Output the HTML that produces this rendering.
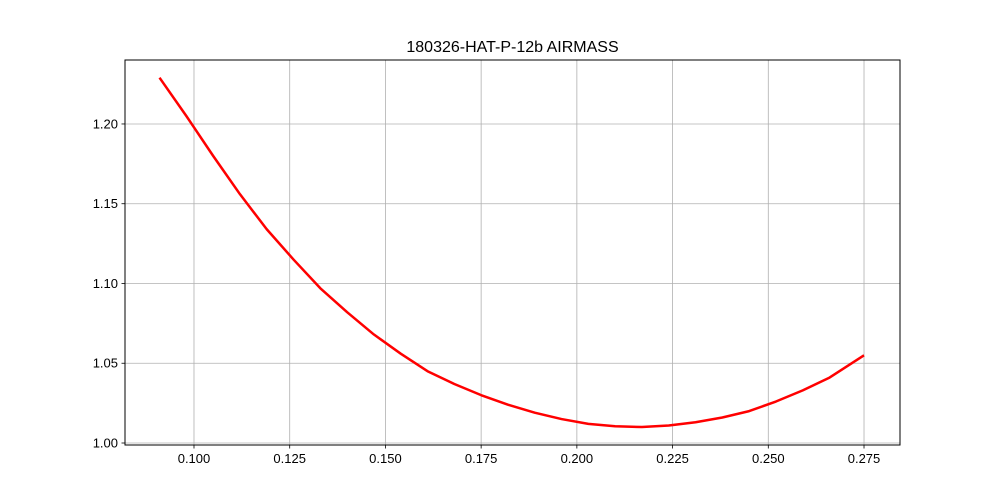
<!DOCTYPE html>
<html><head><meta charset="utf-8"><style>
html,body{margin:0;padding:0;background:#fff;}
svg{display:block;font-family:"Liberation Sans","DejaVu Sans",sans-serif;}
</style></head><body>
<svg id="chart" width="1000" height="500" viewBox="0 0 1000 500">
<rect x="0" y="0" width="1000" height="500" fill="#fff"/>
<text x="512.5" y="52" text-anchor="middle" font-size="16" fill="#000">180326-HAT-P-12b AIRMASS</text>
<g id="grid"></g>
<g id="series"></g>
<rect x="125" y="60" width="775" height="385" fill="none" stroke="#000" stroke-width="1"/>
<g id="axes"></g>
</svg>
<script>
const xValues = [0.091,0.098,0.105,0.112,0.119,0.126,0.133,0.140,0.147,0.154,0.161,0.168,0.175,0.182,0.189,0.196,0.203,0.210,0.217,0.224,0.231,0.238,0.245,0.252,0.259,0.266,0.275];
const airmass = [1.229,1.205,1.180,1.156,1.134,1.115,1.097,1.082,1.068,1.056,1.045,1.037,1.030,1.024,1.019,1.015,1.012,1.0105,1.010,1.011,1.013,1.016,1.020,1.026,1.033,1.041,1.055];
const xTicks = [0.100,0.125,0.150,0.175,0.200,0.225,0.250,0.275];
const xTickLabels = ["0.100","0.125","0.150","0.175","0.200","0.225","0.250","0.275"];
const yTicks = [1.00,1.05,1.10,1.15,1.20];
const yTickLabels = ["1.00","1.05","1.10","1.15","1.20"];

const L=125,R=900,T=60,B=445;
const xMin=0.08198,xMax=0.2844,yMin=0.99875,yMax=1.2401;
const sx=v=>L+(v-xMin)/(xMax-xMin)*(R-L);
const sy=v=>B-(v-yMin)/(yMax-yMin)*(B-T);
const NS="http://www.w3.org/2000/svg";
const grid=document.getElementById('grid'),axes=document.getElementById('axes'),series=document.getElementById('series');
function mk(tag,attrs,parent){const e=document.createElementNS(NS,tag);for(const k in attrs)e.setAttribute(k,attrs[k]);parent.appendChild(e);return e;}
xTicks.forEach((v,i)=>{
  const x=sx(v);
  const g=mk('line',{x1:x,x2:x,y1:T,y2:B,stroke:'#b0b0b0','stroke-width':0.8},grid);
  
  
  const t=mk('line',{x1:x,x2:x,y1:B,y2:B+3.5,stroke:'#000','stroke-width':0.8},axes);
  
  
  const l=mk('text',{x:x,y:B+18,'text-anchor':'middle','font-size':13,fill:'#000'},axes);
  l.textContent=xTickLabels[i];
  
  
});
yTicks.forEach((v,i)=>{
  const y=sy(v);
  const g=mk('line',{x1:L,x2:R,y1:y,y2:y,stroke:'#b0b0b0','stroke-width':0.8},grid);
  
  
  const t=mk('line',{x1:L-3.5,x2:L,y1:y,y2:y,stroke:'#000','stroke-width':0.8},axes);
  
  
  const l=mk('text',{x:L-7,y:y+4.5,'text-anchor':'end','font-size':13,fill:'#000'},axes);
  l.textContent=yTickLabels[i];
  
  
});
const pts=xValues.map((v,i)=>sx(v).toFixed(2)+','+sy(airmass[i]).toFixed(2)).join(' ');
const line=mk('polyline',{points:pts,fill:'none',stroke:'#ff0000','stroke-width':2.5,'stroke-linejoin':'round'},series);


</script>
</body></html>
